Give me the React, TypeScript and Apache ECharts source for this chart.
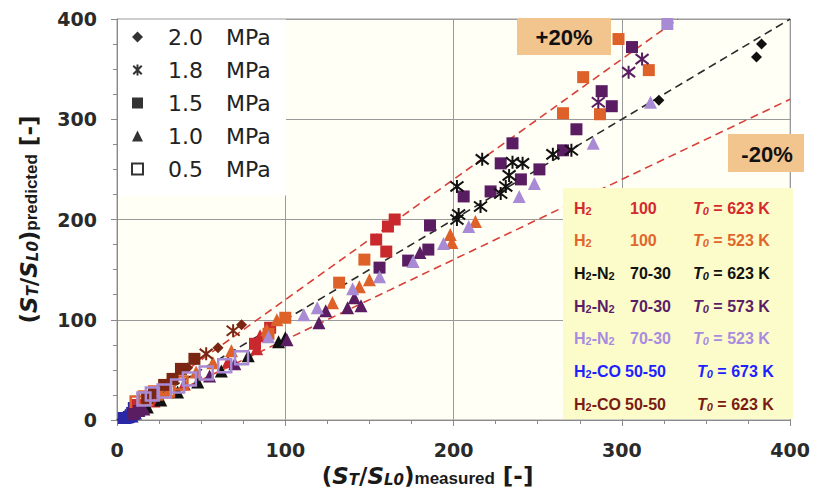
import React, { useEffect, useRef } from 'react';
import * as echarts from 'echarts';

const DV = '"DejaVu Sans", sans-serif';
const AR = 'Arial, "Liberation Sans", sans-serif';

// ---- data (x = measured, y = predicted) ----
const h2_623_p15 = [[165, 200], [161, 193], [154, 180], [160, 168], [91, 92], [82, 76], [18, 22], [12, 15]];
const h2_623_p10 = [[85, 84], [83, 71], [66, 58], [40, 36], [22, 19]];
const h2_523_p15 = [[298, 380], [316, 349], [277, 342], [265, 306], [287, 305], [147, 160], [132, 137], [100, 102], [90, 86]];
const h2_523_p10 = [[213, 198], [198, 185], [199, 177], [150, 140], [144, 133], [128, 117], [95, 100], [89, 90], [68, 69], [57, 57], [47, 48], [30, 28]];
const h2_523_p05 = [[12, 17], [17, 22], [23, 27], [30, 30], [38, 37]];
const n2_623_p20 = [[383, 375], [380, 362], [322, 319]];
const n2_623_p18 = [[217, 260], [235, 257], [241, 256], [233, 244], [231, 233], [228, 226], [259, 265], [270, 269], [202, 233], [216, 213], [203, 205], [202, 200]];
const n2_623_p10 = [[96, 78], [100, 82], [78, 64], [62, 49], [48, 38], [36, 28], [26, 20], [18, 13]];
const n2_573_p18 = [[312, 360], [304, 347], [286, 317]];
const n2_573_p15 = [[306, 372], [288, 328], [294, 313], [273, 290], [235, 276], [265, 269], [251, 250], [240, 240], [228, 256], [222, 228], [206, 223], [186, 194], [185, 170], [156, 152], [173, 159], [13, 9], [10, 6]];
const n2_573_p10 = [[180, 167], [141, 122], [145, 114], [137, 112], [124, 109], [120, 97], [101, 80], [70, 56], [55, 44], [16, 11]];
const n2_523_p15 = [[327, 395]];
const n2_523_p10 = [[317, 317], [283, 276], [248, 236], [239, 223], [209, 193], [194, 176], [176, 158], [156, 143], [140, 131], [119, 112], [111, 105], [90, 83]];
const n2_523_p05 = [[74, 62], [64, 54], [53, 47], [43, 41], [36, 34], [28, 29], [21, 26], [16, 21]];
const co_673_p10 = [[6, 3], [7, 5], [8, 6], [9, 4], [10, 8], [11, 7], [12, 11], [13, 10], [14, 13], [16, 14], [5, 5], [8, 9]];
const co_673_p15 = [[7, 3], [9, 7], [11, 9], [13, 12], [15, 15], [5, 2], [10, 12], [4, 2]];
const co_623_p20 = [[74, 95], [60, 72], [42, 52]];
const co_623_p18 = [[69, 89], [53, 66]];
const co_623_p15 = [[46, 61], [38, 51], [33, 41], [28, 35], [22, 27], [18, 22]];

const refX = [0, 400];
const bandFactors = [1.2, 0.8];

const pressureLabels = ['2.0', '1.8', '1.5', '1.0', '0.5'];
const mixtures = ['H2', 'H2', 'H2-N2', 'H2-N2', 'H2-N2', 'H2-CO', 'H2-CO'];
const ratios = ['100', '100', '70-30', '70-30', '70-30', '50-50', '50-50'];
const temps = ['623', '523', '623', '573', '523', '673', '623'];

const textColors = ['#d42a2e', '#e0662c', '#111111', '#5b1e66', '#a98be0', '#1f1fff', '#7a1c14'];
const M = { red: '#c9282c', orange: '#dd6128', black: '#111111', purple: '#5a1d62', lilac: '#a88bd4', blue: '#2b28a6', brown: '#7a2613' };

const STAR = 'path://M0,0L10,10M10,0L0,10M5,-1.5L5,11.5';
const SYM: Record<string, string> = { p20: 'diamond', p18: STAR, p15: 'rect', p10: 'triangle', p05: 'rect' };
const SIZE: Record<string, number> = { p20: 11, p18: 13, p15: 12, p10: 13, p05: 13 };

function sc(name: string, data: number[][], kind: string, color: string) {
  let itemStyle: any = { color, borderWidth: 0, opacity: 1 };
  if (kind === 'p18') itemStyle = { color: 'transparent', borderColor: color, borderWidth: 2, opacity: 1 };
  if (kind === 'p05') itemStyle = { color: 'transparent', borderColor: color, borderWidth: 2.5, opacity: 1 };
  return {
    type: 'scatter', name, data, symbol: SYM[kind], symbolSize: SIZE[kind],
    itemStyle, z: 3, silent: true, emphasis: { disabled: true },
  };
}

function dashed(name: string, data: number[][], color: string) {
  return {
    type: 'line', name, data, symbol: 'none', z: 2, silent: true,
    lineStyle: { color, width: 1.6, type: [8, 5] },
  };
}

const titleRich: any = {
  p: { fontFamily: DV, fontWeight: 'bold', fontSize: 23, lineHeight: 30, color: '#1a1a1a', verticalAlign: 'bottom' },
  i: { fontFamily: DV, fontWeight: 'bold', fontStyle: 'italic', fontSize: 23, lineHeight: 30, color: '#1a1a1a', verticalAlign: 'bottom' },
  is: { fontFamily: DV, fontWeight: 'bold', fontStyle: 'italic', fontSize: 15, lineHeight: 14, color: '#1a1a1a', verticalAlign: 'bottom' },
  sb: { fontFamily: AR, fontWeight: 'bold', fontSize: 17, lineHeight: 16, color: '#1a1a1a', verticalAlign: 'bottom' },
};

function axisCommon() {
  return {
    type: 'value', min: 0, max: 400, interval: 100,
    axisLine: { show: true, lineStyle: { color: '#8a8a8a', width: 1 } },
    axisTick: { show: true, length: 6, lineStyle: { color: '#8a8a8a' } },
    minorTick: { show: true, splitNumber: 4, length: 4, lineStyle: { color: '#8a8a8a' } },
    splitLine: { show: true, lineStyle: { color: '#9a9a9a', width: 1 } },
    axisLabel: { margin: 20, fontFamily: DV, fontWeight: 'bold', fontSize: 19, color: '#2a2a2a' },
    nameLocation: 'middle',
  };
}

function mixRich(mix: string) {
  return mix.split(/(2)/).filter((s) => s !== '').map((s) => (s === '2' ? `{s|2}` : `{m|${s}}`)).join('');
}

function legendRich(color: string) {
  return {
    m: { fontFamily: AR, fontWeight: 'bold', fontSize: 16, lineHeight: 20, fill: color, verticalAlign: 'bottom' },
    s: { fontFamily: AR, fontWeight: 'bold', fontSize: 11, lineHeight: 8, fill: color, verticalAlign: 'bottom' },
    t: { fontFamily: AR, fontWeight: 'bold', fontStyle: 'italic', fontSize: 16, lineHeight: 20, fill: color, verticalAlign: 'bottom' },
    ts: { fontFamily: AR, fontWeight: 'bold', fontStyle: 'italic', fontSize: 11, lineHeight: 8, fill: color, verticalAlign: 'bottom' },
  };
}

function buildGraphic() {
  const g: any[] = [];
  g.push({ type: 'rect', shape: { x: 118, y: 19.5, width: 168, height: 176 }, style: { fill: '#ffffff' }, z: 1, silent: true });
  g.push({ type: 'rect', shape: { x: 517, y: 18, width: 94, height: 37 }, style: { fill: '#f2c48e' }, z: 10, silent: true });
  g.push({ type: 'text', x: 564, y: 37, z: 11, silent: true, style: { text: '+20%', fontFamily: AR, fontWeight: 'bold', fontSize: 22, fill: '#111', align: 'center', verticalAlign: 'middle' } });
  g.push({ type: 'rect', shape: { x: 728, y: 134, width: 76, height: 38 }, style: { fill: '#f2c48e' }, z: 10, silent: true });
  g.push({ type: 'text', x: 767, y: 154, z: 11, silent: true, style: { text: '-20%', fontFamily: AR, fontWeight: 'bold', fontSize: 22, fill: '#111', align: 'center', verticalAlign: 'middle' } });
  g.push({ type: 'rect', shape: { x: 563, y: 188, width: 230, height: 231 }, style: { fill: '#fcfccb' }, z: 10, silent: true });
  mixtures.forEach((mix, i) => {
    const y = 206 + i * 32.7;
    const rich = legendRich(textColors[i]);
    const isCO = mix === 'H2-CO';
    g.push({ type: 'text', x: 574, y, z: 11, silent: true, style: { text: mixRich(mix), rich, verticalAlign: 'middle', align: 'left' } });
    g.push({ type: 'text', x: isCO ? 625 : 630, y, z: 11, silent: true, style: { text: `{m|${ratios[i]}}`, rich, verticalAlign: 'middle', align: 'left' } });
    g.push({ type: 'text', x: isCO ? 697 : 693, y, z: 11, silent: true, style: { text: `{t|T}{ts|0}{m| = ${temps[i]} K}`, rich, verticalAlign: 'middle', align: 'left' } });
  });
  return g;
}

const legendSeries = pressureLabels.map((p, i) => {
  const kind = ['p20', 'p18', 'p15', 'p10', 'p05'][i];
  let itemStyle: any = { color: '#000' };
  if (kind === 'p18') itemStyle = { color: 'transparent', borderColor: '#000', borderWidth: 2 };
  if (kind === 'p05') itemStyle = { color: '#fff', borderColor: '#000', borderWidth: 2 };
  return { type: 'scatter', name: p, data: [], symbol: SYM[kind], itemStyle };
});

const option: any = {
  animation: false,
  backgroundColor: '#ffffff',
  grid: { left: 117, right: 20, top: 19, bottom: 79, show: true, backgroundColor: '#fffff6', borderColor: '#9a9a9a', borderWidth: 1 },
  xAxis: {
    ...axisCommon(),
    name: '{p|(}{i|S}{is|T}{p|/}{i|S}{is|L0}{p|)}{sb|measured}{p| [-]}',
    nameGap: 37,
    nameTextStyle: { rich: titleRich, padding: [0, 52, 0, 0] },
  },
  yAxis: {
    ...axisCommon(),
    name: '{p|(}{i|S}{is|T}{p|/}{i|S}{is|L0}{p|)}{sb|predicted}{p| [-]}',
    nameGap: 77,
    nameTextStyle: { rich: titleRich },
  },
  legend: {
    data: pressureLabels,
    orient: 'vertical', left: 126, top: 21, padding: 5,
    itemWidth: 11, itemHeight: 11, itemGap: 11,
    selectedMode: false,
    formatter: (n: string) => `{a|${n}}{b|MPa}`,
    textStyle: {
      rich: {
        a: { fontFamily: DV, fontSize: 22, lineHeight: 24, color: '#222', width: 58, padding: [0, 0, 0, 20] },
        b: { fontFamily: DV, fontSize: 22, lineHeight: 24, color: '#222' },
      },
    },
  },
  graphic: buildGraphic(),
  series: [
    dashed('y=1.2x', refX.map((x) => [x / bandFactors[0], x]), '#d8403a'),
    dashed('y=0.8x', refX.map((x) => [x, x * bandFactors[1]]), '#d8403a'),
    dashed('y=x', refX.map((x) => [x, x]), '#2a2a2a'),
    sc('H2-CO 673 K 1.0', co_673_p10, 'p10', M.blue),
    sc('H2-CO 673 K 1.5', co_673_p15, 'p15', M.blue),
    sc('H2 623 K 1.5', h2_623_p15, 'p15', M.red),
    sc('H2 623 K 1.0', h2_623_p10, 'p10', M.red),
    sc('H2-N2 623 K 1.0', n2_623_p10, 'p10', M.black),
    sc('H2 523 K 1.5', h2_523_p15, 'p15', M.orange),
    sc('H2 523 K 1.0', h2_523_p10, 'p10', M.orange),
    sc('H2 523 K 0.5', h2_523_p05, 'p05', M.orange),
    sc('H2-N2 573 K 1.5', n2_573_p15, 'p15', M.purple),
    sc('H2-N2 573 K 1.0', n2_573_p10, 'p10', M.purple),
    sc('H2-N2 573 K 1.8', n2_573_p18, 'p18', M.purple),
    sc('H2-N2 523 K 1.5', n2_523_p15, 'p15', M.lilac),
    sc('H2-N2 523 K 1.0', n2_523_p10, 'p10', M.lilac),
    sc('H2-N2 623 K 2.0', n2_623_p20, 'p20', M.black),
    sc('H2-N2 623 K 1.8', n2_623_p18, 'p18', M.black),
    sc('H2-CO 623 K 1.5', co_623_p15, 'p15', M.brown),
    sc('H2-CO 623 K 2.0', co_623_p20, 'p20', M.brown),
    sc('H2-CO 623 K 1.8', co_623_p18, 'p18', M.brown),
    sc('H2-N2 523 K 0.5', n2_523_p05, 'p05', M.lilac),
    ...legendSeries,
  ],
};

export default function App() {
  const ref = useRef<HTMLDivElement>(null);
  useEffect(() => {
    const chart = echarts.init(ref.current!, null, { renderer: 'svg' });
    chart.setOption(option);
    return () => chart.dispose();
  }, []);
  return <div ref={ref} style={{ position: 'fixed', left: 0, top: 0, width: 813, height: 499 }} />;
}
